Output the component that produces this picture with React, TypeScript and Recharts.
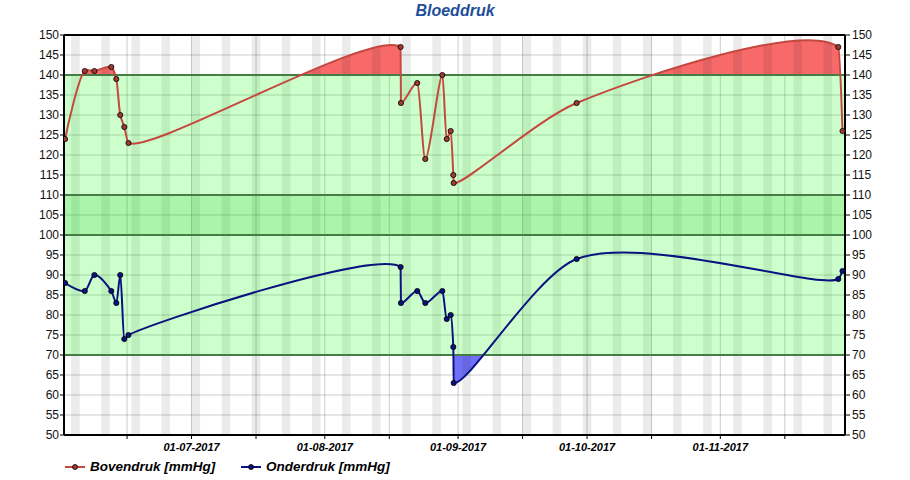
import React from 'react';
import {
  ComposedChart,
  Line,
  Area,
  XAxis,
  YAxis,
  CartesianGrid,
  ReferenceArea,
  ReferenceLine,
} from 'recharts';

// measurement moments (UTC) and the two pressures
const momenten = [
  '2017-06-01T14:00', '2017-06-06T04:00', '2017-06-08T09:40', '2017-06-12T08:00',
  '2017-06-13T12:00', '2017-06-14T10:00', '2017-06-15T08:40', '2017-06-16T08:00',
  '2017-08-18T15:10', '2017-08-18T17:00', '2017-08-22T12:00', '2017-08-24T09:00',
  '2017-08-28T08:00', '2017-08-29T08:40', '2017-08-30T06:45', '2017-08-30T21:20',
  '2017-08-30T23:30', '2017-09-28T14:00', '2017-11-28T10:30', '2017-11-29T10:00',
];
const bovendruk = [124, 141, 141, 142, 139, 130, 127, 123, 147, 133, 138, 119, 140, 124, 126, 115, 113, 133, 147, 126];
const onderdruk = [88, 86, 90, 86, 83, 90, 74, 75, 92, 83, 86, 83, 86, 79, 80, 72, 63, 94, 89, 91];

const xDomain = ['2017-06-01T08:00', '2017-11-30T00:00'];
const xTickDates = [
  '2017-06-16', '2017-07-01', '2017-07-16', '2017-08-01', '2017-08-16', '2017-09-01',
  '2017-09-16', '2017-10-01', '2017-10-16', '2017-11-01', '2017-11-16',
];
const yTicks = [50, 55, 60, 65, 70, 75, 80, 85, 90, 95, 100, 105, 110, 115, 120, 125, 130, 135, 140, 145, 150];
const firstSaturday = '2017-06-03';

const ts = (s: string) => Date.parse(s.length === 10 ? s + 'T00:00Z' : s + 'Z');
const DAY = 86400000;
const domain = xDomain.map(ts);
const xTicks = xTickDates.map(ts);

const data = momenten.map((m, i) => ({
  t: ts(m),
  boven: bovendruk[i],
  onder: onderdruk[i],
}));

const weekends: [number, number][] = [];
for (let t = ts(firstSaturday); t < domain[1]; t += 7 * DAY) {
  weekends.push([Math.max(t, domain[0]), Math.min(t + 2 * DAY, domain[1])]);
}

// centripetal catmull-rom, control points kept inside their own x-interval
type Pt = [number, number];
const catmullRom = (pts: Pt[], alpha = 0.5) => {
  const segs: Pt[][] = [];
  const d = (a: Pt, b: Pt) => Math.hypot(a[0] - b[0], a[1] - b[1]);
  const limit = (p: Pt, c: Pt, dir: number, lim: number): Pt => {
    const vx = (c[0] - p[0]) * dir;
    if (vx <= 0) return [p[0], p[1]];
    if (vx <= lim) return c;
    const k = lim / vx;
    return [p[0] + (c[0] - p[0]) * k, p[1] + (c[1] - p[1]) * k];
  };
  for (let i = 0; i < pts.length - 1; i++) {
    const p1 = pts[i], p2 = pts[i + 1];
    const p0 = i > 0 ? pts[i - 1] : null;
    const p3 = i + 2 < pts.length ? pts[i + 2] : null;
    const l12 = d(p1, p2);
    const l12a = Math.pow(l12, alpha), l12_2a = Math.pow(l12, 2 * alpha);
    let c1: Pt = [p1[0], p1[1]];
    let c2: Pt = [p2[0], p2[1]];
    if (p0) {
      const l01 = d(p0, p1);
      const l01a = Math.pow(l01, alpha), l01_2a = Math.pow(l01, 2 * alpha);
      if (l01a > 1e-12) {
        const a = 2 * l01_2a + 3 * l01a * l12a + l12_2a;
        const n = 3 * l01a * (l01a + l12a);
        c1 = [
          (p1[0] * a - p0[0] * l12_2a + p2[0] * l01_2a) / n,
          (p1[1] * a - p0[1] * l12_2a + p2[1] * l01_2a) / n,
        ];
      }
    }
    if (p3) {
      const l23 = d(p2, p3);
      const l23a = Math.pow(l23, alpha), l23_2a = Math.pow(l23, 2 * alpha);
      if (l23a > 1e-12) {
        const b = 2 * l23_2a + 3 * l23a * l12a + l12_2a;
        const m = 3 * l23a * (l23a + l12a);
        c2 = [
          (p2[0] * b + p1[0] * l23_2a - p3[0] * l12_2a) / m,
          (p2[1] * b + p1[1] * l23_2a - p3[1] * l12_2a) / m,
        ];
      }
    }
    const dx = p2[0] - p1[0];
    const dir = dx >= 0 ? 1 : -1;
    const lim = Math.abs(dx) / 3;
    segs.push([p1, limit(p1, c1, dir, lim), limit(p2, c2, -dir, lim), p2]);
  }
  return segs;
};

const sample = (segs: Pt[][]) => {
  const out: Pt[] = [];
  segs.forEach(([p1, c1, c2, p2], i) => {
    const len = Math.hypot(c1[0] - p1[0], c1[1] - p1[1]) + Math.hypot(c2[0] - c1[0], c2[1] - c1[1]) + Math.hypot(p2[0] - c2[0], p2[1] - c2[1]);
    const n = Math.max(4, Math.ceil(len));
    for (let k = i === 0 ? 0 : 1; k <= n; k++) {
      const t = k / n, u = 1 - t;
      out.push([
        u * u * u * p1[0] + 3 * u * u * t * c1[0] + 3 * u * t * t * c2[0] + t * t * t * p2[0],
        u * u * u * p1[1] + 3 * u * u * t * c1[1] + 3 * u * t * t * c2[1] + t * t * t * p2[1],
      ]);
    }
  });
  return out;
};

// curve factory; in area mode only keeps the part beyond the base line
const makeCurve = (mode: 'line' | 'above' | 'below') => (context: any) => {
  let area = false;
  let stage = 0;
  let pts: Pt[] = [];
  let top: Pt[] = [];
  return {
    areaStart() { area = true; stage = 0; },
    areaEnd() { area = false; },
    lineStart() { pts = []; },
    point(x: number, y: number) { pts.push([+x, +y]); },
    lineEnd() {
      if (!pts.length) return;
      if (!area) {
        context.moveTo(pts[0][0], pts[0][1]);
        catmullRom(pts).forEach(([, c1, c2, p2]) => context.bezierCurveTo(c1[0], c1[1], c2[0], c2[1], p2[0], p2[1]));
        return;
      }
      if (stage === 0) { top = pts; stage = 1; return; }
      const base = pts[0][1];
      const dense = top.length > 1 ? sample(catmullRom(top)) : top;
      dense.forEach(([x, y], i) => {
        const yy = mode === 'above' ? Math.min(y, base) : mode === 'below' ? Math.max(y, base) : y;
        if (i === 0) context.moveTo(x, yy);
        else context.lineTo(x, yy);
      });
      pts.forEach(([x, y]) => context.lineTo(x, y));
      context.closePath();
      stage = 0;
    },
  };
};

const lineCurve = makeCurve('line');
const aboveCurve = makeCurve('above');
const belowCurve = makeCurve('below');

const pad = (n: number) => (n < 10 ? '0' + n : '' + n);
const fmtDate = (v: number) => {
  const d = new Date(v);
  if (d.getUTCDate() !== 1) return '';
  return `${pad(d.getUTCDate())}-${pad(d.getUTCMonth() + 1)}-${d.getUTCFullYear()}`;
};

const font = '"Liberation Sans", Arial, sans-serif';
const rood = '#c4483f';
const blauw = '#0a1280';

const LegendItem = ({ color, dot, label, left }: { color: string; dot: string; label: string; left: number }) => (
  <div style={{ position: 'absolute', left, top: 0, display: 'flex', alignItems: 'center', whiteSpace: 'nowrap' }}>
    <svg width={22} height={10} style={{ marginRight: 4 }}>
      <line x1={1} y1={5} x2={21} y2={5} stroke={color} strokeWidth={2} />
      <circle cx={11} cy={5} r={2.5} fill={dot} stroke="#000" strokeWidth={0.8} />
    </svg>
    <span>{label}</span>
  </div>
);

export default function App() {
  return (
    <div style={{ position: 'absolute', left: 0, top: 0, width: 910, height: 480, background: '#fff', fontFamily: font }}>
      <div
        style={{
          position: 'absolute', top: 2, left: 0, width: 910, textAlign: 'center',
          fontSize: 16, fontWeight: 'bold', fontStyle: 'italic', color: '#1f4e9b',
        }}
      >
        Bloeddruk
      </div>
      <ComposedChart
        width={910}
        height={480}
        data={data}
        margin={{ top: 35, right: 8, bottom: 25, left: 8 }}
      >
        <CartesianGrid stroke="rgba(0,0,0,0.2)" zIndex={-100} />
        <Area
          dataKey="boven"
          type={aboveCurve as any}
          baseValue={140}
          stroke="none"
          fill="#f86a6a"
          fillOpacity={1}
          isAnimationActive={false}
          zIndex={-60}
        />
        <Area
          dataKey="onder"
          type={belowCurve as any}
          baseValue={70}
          stroke="none"
          fill="#7070f6"
          fillOpacity={1}
          isAnimationActive={false}
          zIndex={-60}
        />
        {weekends.map(([a, b]) => (
          <ReferenceArea
            key={a}
            x1={a}
            x2={b}
            fill="rgba(0,0,0,0.08)"
            fillOpacity={1}
            stroke="none"
            ifOverflow="hidden"
            zIndex={-50}
          />
        ))}
        <ReferenceArea y1={70} y2={100} fill="rgba(0,255,0,0.2)" fillOpacity={1} stroke="none" zIndex={-40} />
        <ReferenceArea y1={100} y2={110} fill="rgba(0,225,0,0.33)" fillOpacity={1} stroke="none" zIndex={-40} />
        <ReferenceArea y1={110} y2={140} fill="rgba(0,255,0,0.2)" fillOpacity={1} stroke="none" zIndex={-40} />
        {[70, 100, 110, 140].map((v) => (
          <ReferenceLine key={v} y={v} stroke="#467d46" strokeWidth={2} zIndex={-30} />
        ))}
        <ReferenceLine y={150} stroke="#000" strokeWidth={2} zIndex={-30} />
        <XAxis
          dataKey="t"
          type="number"
          domain={domain}
          ticks={xTicks}
          interval={0}
          tickFormatter={fmtDate}
          axisLine={{ stroke: '#000', strokeWidth: 2 }}
          tickLine={{ stroke: '#000' }}
          tickSize={4}
          tickMargin={4}
          height={20}
          tick={{ fill: '#000', fontSize: 11, fontWeight: 'bold', fontStyle: 'italic', fontFamily: font }}
          allowDataOverflow
        />
        <YAxis
          domain={[50, 150]}
          ticks={yTicks}
          interval={0}
          width={56}
          axisLine={{ stroke: '#000', strokeWidth: 2 }}
          tickLine={{ stroke: '#000' }}
          tickSize={4}
          tickMargin={1}
          tick={{ fill: '#111', fontSize: 12, fontFamily: font }}
          allowDataOverflow
        />
        <YAxis
          yAxisId="right"
          orientation="right"
          domain={[50, 150]}
          ticks={yTicks}
          interval={0}
          width={57}
          axisLine={{ stroke: '#000', strokeWidth: 2 }}
          tickLine={{ stroke: '#000' }}
          tickSize={5}
          tickMargin={2}
          tick={{ fill: '#111', fontSize: 12, fontFamily: font, textAnchor: 'start' }}
          allowDataOverflow
        />
        <Line
          dataKey="boven"
          type={lineCurve as any}
          stroke={rood}
          strokeWidth={2}
          dot={{ r: 2.6, fill: '#a03a34', stroke: '#000', strokeWidth: 0.8 }}
          isAnimationActive={false}
        />
        <Line
          dataKey="onder"
          type={lineCurve as any}
          stroke={blauw}
          strokeWidth={2}
          dot={{ r: 2.6, fill: '#0a1280', stroke: '#000', strokeWidth: 0.8 }}
          isAnimationActive={false}
        />
      </ComposedChart>
      <div
        style={{
          position: 'absolute', top: 459, left: 0, width: 910, height: 18,
          fontSize: 13.5, fontWeight: 'bold', fontStyle: 'italic', color: '#000',
        }}
      >
        <LegendItem left={64} color={rood} dot="#a03a34" label="Bovendruk [mmHg]" />
        <LegendItem left={240} color={blauw} dot="#0a1280" label="Onderdruk [mmHg]" />
      </div>
    </div>
  );
}
